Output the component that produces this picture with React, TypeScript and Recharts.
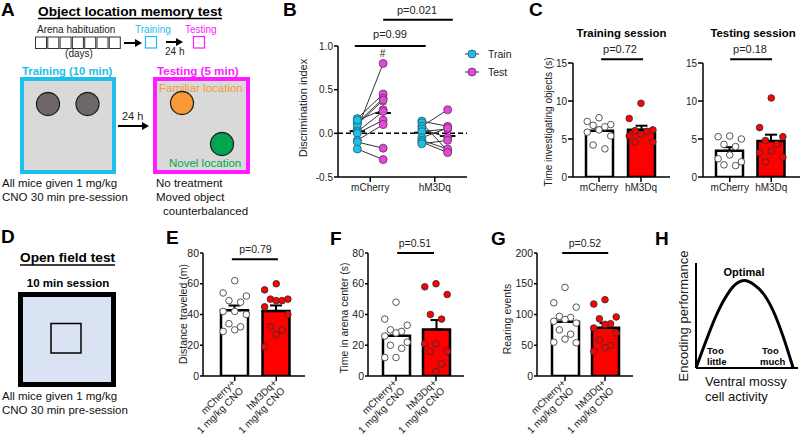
import React from "react";
import {
  ComposedChart,
  LineChart,
  Line,
  Bar,
  Scatter,
  XAxis,
  YAxis,
  ErrorBar,
  Cell,
  ReferenceLine,
} from "recharts";

const FONT = '"Liberation Sans", Arial, Helvetica, sans-serif';
const CYAN = "#1cc0ea";
const MAGENTA = "#e04bd6";
const RED = "#ff0000";

// B: discrimination index, paired train -> test per mouse
const bGroups = ["mCherry", "hM3Dq"];
const bTicks = [-0.5, 0, 0.5, 1];
const trainMCherry = [0.05, 0.17, 0.12, 0.1, 0.15, 0.02, 0.0, -0.08, -0.1, -0.18];
const testMCherry = [0.8, 0.45, 0.4, 0.38, 0.27, 0.25, 0.15, 0.1, -0.17, -0.3];
const trainHM3Dq = [0.14, 0.12, 0.08, 0.05, 0.02, -0.05, -0.08, -0.1, -0.12];
const testHM3Dq = [0.08, -0.2, 0.27, -0.05, 0.05, 0.06, -0.18, -0.22, -0.08];

// C: time investigating objects (s)
const cGroups = ["mCherry", "hM3Dq"];
const cTicks = [0, 5, 10, 15];
const trainingMCherry = [7.8, 7.3, 6.9, 6.8, 6.6, 6.2, 5.9, 5.4, 4.2, 3.7];
const trainingHM3Dq = [9.7, 7.7, 6.2, 6.1, 6.0, 5.6, 5.4, 4.6, 4.6];
const testingMCherry = [5.4, 5.3, 5.0, 4.3, 4.0, 2.9, 2.4, 2.0, 1.6, 1.5];
const testingHM3Dq = [10.4, 6.5, 5.3, 4.8, 4.3, 3.4, 3.2, 2.6, 2.0];

// E-G: open field
const ofGroups = ["mCherry+", "hM3Dq+"];
const ofDose = "1 mg/kg CNO";
const ticks80 = [0, 20, 40, 60, 80];
const ticks200 = [0, 50, 100, 150, 200];
const distMCherry = [62, 54, 52, 49, 48, 42, 42, 40, 34, 32, 30, 29];
const distHM3Dq = [60, 56, 50, 50, 49, 49, 45, 40, 32, 30, 27, 19];
const centerMCherry = [48, 37, 33, 30, 29, 28, 26, 22, 20, 18, 12, 12];
const centerHM3Dq = [60, 58, 53, 40, 37, 21, 21, 16, 16, 8, 3];
const rearMCherry = [144, 119, 112, 97, 95, 92, 89, 86, 75, 68, 60, 55, 54];
const rearHM3Dq = [124, 117, 96, 93, 85, 84, 78, 70, 58, 50, 46, 40];

// H: inverted-U schematic
const activity = [0, 1, 2, 3, 4, 5, 6, 7, 8, 9, 10];
const performance = [0, 0.3, 0.58, 0.8, 0.95, 1.0, 0.95, 0.84, 0.64, 0.35, 0];

const mean = (a: number[]) => a.reduce((s, v) => s + v, 0) / a.length;
const sem = (a: number[]) => {
  const m = mean(a);
  return Math.sqrt(a.reduce((s, v) => s + (v - m) ** 2, 0) / (a.length - 1) / a.length);
};
const spread = [0, -0.28, 0.28, -0.14, 0.14];

const axisLine = { stroke: "#000", strokeWidth: 1.5 };
const tickLine = { stroke: "#000", strokeWidth: 1.5 };
const tickFont = (size: number) => ({ fill: "#222", fontSize: size, fontFamily: FONT });

const dot = (fill: string, stroke: string, r: number, sw: number) => (p: any) => (
  <circle cx={p.cx} cy={p.cy} r={r} fill={fill} stroke={stroke} strokeWidth={sw} />
);

function SlantTick(props: any) {
  const { x, y, payload } = props;
  return (
    <g transform={`translate(${x},${y - 5}) rotate(-45)`}>
      <text textAnchor="end" fontSize={10} fontFamily={FONT} fill="#222">
        <tspan x={-3} y={5}>{payload.value}</tspan>
        <tspan x={-3} y={16}>{ofDose}</tspan>
      </text>
    </g>
  );
}

type BarPanelProps = {
  left: number;
  top: number;
  width: number;
  height: number;
  margin: { top: number; right: number; bottom: number; left: number };
  yWidth: number;
  xHeight: number;
  pad: { left: number; right: number };
  cats: string[];
  groups: number[][];
  domain: [number, number];
  ticks: number[];
  bx: [number, number];
  by: number;
  slanted?: boolean;
};

function BarPanel(p: BarPanelProps) {
  const rows = p.cats.map((name, i) => ({
    name,
    mean: mean(p.groups[i]),
    err: [0, sem(p.groups[i])],
  }));
  const pts = p.groups.map((g, gi) =>
    g.map((v, i) => ({ x: gi + 1 + spread[i % spread.length], y: v }))
  );
  return (
    <div style={{ position: "absolute", left: p.left, top: p.top }}>
      <ComposedChart width={p.width} height={p.height} data={rows} margin={p.margin}>
        <XAxis
          xAxisId="c"
          dataKey="name"
          type="category"
          padding={p.pad}
          height={p.xHeight}
          axisLine={axisLine}
          tickLine={tickLine}
          tickSize={5}
          interval={0}
          tick={p.slanted ? <SlantTick /> : tickFont(10)}
        />
        <XAxis xAxisId="n" type="number" dataKey="x" domain={[0.5, 2.5]} padding={p.pad} hide allowDataOverflow />
        <YAxis
          type="number"
          domain={p.domain}
          ticks={p.ticks}
          interval={0}
          width={p.yWidth}
          axisLine={axisLine}
          tickLine={tickLine}
          tickSize={p.slanted ? 3 : 5}
          tickMargin={1}
          tick={tickFont(p.slanted ? 10.5 : 10)}
          allowDataOverflow
        />
        <Bar xAxisId="c" dataKey="mean" barSize={27} stroke="#000" strokeWidth={2.5} isAnimationActive={false}>
          {rows.map((r, i) => (
            <Cell key={r.name} fill={i === 0 ? "#fff" : RED} />
          ))}
          <ErrorBar dataKey="err" width={6} stroke="#000" strokeWidth={2} direction="y" />
        </Bar>
        <Scatter xAxisId="n" data={pts[0]} dataKey="y" shape={dot("#fff", "#555", 3.3, 1)} isAnimationActive={false} />
        <Scatter xAxisId="n" data={pts[1]} dataKey="y" shape={dot(RED, "#333", 3.3, 0.9)} isAnimationActive={false} />
        <ReferenceLine
          xAxisId="n"
          segment={[{ x: p.bx[0], y: p.by }, { x: p.bx[1], y: p.by }]}
          stroke="#000"
          strokeWidth={2}
          ifOverflow="visible"
        />
      </ComposedChart>
    </div>
  );
}

function PanelB() {
  const pairs = [
    ...trainMCherry.map((t, i) => ({ g: 1, t, s: testMCherry[i] })),
    ...trainHM3Dq.map((t, i) => ({ g: 2, t, s: testHM3Dq[i] })),
  ];
  const trainPts = pairs.map((q) => ({ x: q.g - 0.2, y: q.t }));
  const testPts = pairs.map((q) => ({ x: q.g + 0.2, y: q.s }));
  const stats = [
    { x: 0.8, v: trainMCherry },
    { x: 1.2, v: testMCherry },
    { x: 1.8, v: trainHM3Dq },
    { x: 2.2, v: testHM3Dq },
  ].map((s) => ({ x: s.x, m: mean(s.v), e: sem(s.v) }));
  return (
    <div style={{ position: "absolute", left: 290, top: 0 }}>
      <ComposedChart width={240} height={220} margin={{ top: 46, right: 63, bottom: 13, left: 0 }}>
        <XAxis
          type="number"
          dataKey="x"
          domain={[0.5, 2.5]}
          ticks={[1, 2]}
          tickFormatter={(v: number) => bGroups[v - 1]}
          height={30}
          axisLine={axisLine}
          tickLine={tickLine}
          tickSize={5}
          tick={tickFont(10)}
          allowDataOverflow
        />
        <YAxis
          type="number"
          domain={[-0.5, 1]}
          ticks={bTicks}
          interval={0}
          tickFormatter={(v: number) => v.toFixed(1)}
          width={48}
          axisLine={axisLine}
          tickLine={tickLine}
          tickSize={4}
          tickMargin={1}
          tick={tickFont(10)}
          allowDataOverflow
        />
        <ReferenceLine y={0} stroke="#000" strokeWidth={1.5} strokeDasharray="5 3" />
        {pairs.map((q, i) => (
          <Scatter
            key={i}
            data={[
              { x: q.g - 0.2, y: q.t },
              { x: q.g + 0.2, y: q.s },
            ]}
            dataKey="y"
            line={{ stroke: "#333", strokeWidth: 1 }}
            shape={() => <g />}
            isAnimationActive={false}
          />
        ))}
        <Scatter data={trainPts} dataKey="y" shape={dot(CYAN, "#2a5d6b", 4, 0.8)} isAnimationActive={false} />
        <Scatter data={testPts} dataKey="y" shape={dot(MAGENTA, "#6b2a63", 4, 0.8)} isAnimationActive={false} />
        {stats.map((s, i) => (
          <ReferenceLine
            key={"e" + i}
            segment={[{ x: s.x, y: s.m - s.e }, { x: s.x, y: s.m + s.e }]}
            stroke="#777"
            strokeWidth={1.3}
          />
        ))}
        {stats.map((s, i) => (
          <ReferenceLine
            key={"ct" + i}
            segment={[{ x: s.x - 0.05, y: s.m + s.e }, { x: s.x + 0.05, y: s.m + s.e }]}
            stroke="#777"
            strokeWidth={1.3}
          />
        ))}
        {stats.map((s, i) => (
          <ReferenceLine
            key={"cb" + i}
            segment={[{ x: s.x - 0.05, y: s.m - s.e }, { x: s.x + 0.05, y: s.m - s.e }]}
            stroke="#777"
            strokeWidth={1.3}
          />
        ))}
        {stats.map((s, i) => (
          <ReferenceLine
            key={"m" + i}
            segment={[{ x: s.x - 0.12, y: s.m }, { x: s.x + 0.12, y: s.m }]}
            stroke="#000"
            strokeWidth={2}
          />
        ))}
        <ReferenceLine
          segment={[{ x: 0.76, y: 1.0 }, { x: 1.86, y: 1.0 }]}
          stroke="#000"
          strokeWidth={2}
          ifOverflow="visible"
        />
        <ReferenceLine
          segment={[{ x: 1.2, y: 1.3 }, { x: 2.28, y: 1.3 }]}
          stroke="#000"
          strokeWidth={2}
          ifOverflow="visible"
        />
      </ComposedChart>
    </div>
  );
}

function PanelH() {
  const rows = activity.map((x, i) => ({ x, y: performance[i] }));
  return (
    <div style={{ position: "absolute", left: 690, top: 255 }}>
      <LineChart width={110} height={115} data={rows} margin={{ top: 8, right: 2, bottom: 1, left: 5 }}>
        <XAxis
          type="number"
          dataKey="x"
          domain={[0, 10.5]}
          height={1}
          tick={false}
          tickLine={false}
          axisLine={{ stroke: "#000", strokeWidth: 2 }}
        />
        <YAxis
          type="number"
          domain={[0, 1.2]}
          width={1}
          tick={false}
          tickLine={false}
          axisLine={{ stroke: "#000", strokeWidth: 2 }}
        />
        <Line type="monotone" dataKey="y" stroke="#000" strokeWidth={3} dot={false} isAnimationActive={false} />
      </LineChart>
    </div>
  );
}

function Arrow({ x1, x2, y, w = 2 }: { x1: number; x2: number; y: number; w?: number }) {
  return (
    <g>
      <line x1={x1} y1={y} x2={x2 - 5} y2={y} stroke="#000" strokeWidth={w} />
      <path d={`M${x2 - 7},${y - 4} L${x2},${y} L${x2 - 7},${y + 4} Z`} fill="#000" />
    </g>
  );
}

function Overlay() {
  const letter = { fontSize: 19, fontWeight: 700, fill: "#000" } as const;
  const vlabel = (x: number, y: number, txt: string, size: number) => (
    <text
      x={x}
      y={y}
      fontSize={size}
      textAnchor="middle"
      fill="#222"
      transform={`rotate(-90 ${x} ${y})`}
    >
      {txt}
    </text>
  );
  return (
    <svg width={800} height={437} style={{ position: "absolute", left: 0, top: 0 }} fontFamily={FONT}>
      {/* Panel A */}
      <text x={1} y={16} {...letter}>A</text>
      <text x={38} y={16} fontSize={13.7} fontWeight={700}>Object location memory test</text>
      <line x1={38} y1={18.5} x2={222} y2={18.5} stroke="#000" strokeWidth={1.3} />
      <text x={37} y={33} fontSize={10} fill="#222">Arena habituation</text>
      {[0, 1, 2, 3, 4, 5, 6].map((i) => (
        <rect key={i} x={35.5 + i * 12.3} y={37} width={11} height={11.5} fill="#fff" stroke="#333" strokeWidth={1} />
      ))}
      <text x={79} y={57} fontSize={10} textAnchor="middle" fill="#222">(days)</text>
      <Arrow x1={124} x2={142} y={43} />
      <text x={135} y={33} fontSize={10} fill={CYAN}>Training</text>
      <rect x={145.5} y={36.5} width={11} height={11.5} fill="#fff" stroke={CYAN} strokeWidth={1.2} />
      <Arrow x1={166} x2={183} y={42} />
      <text x={165} y={55} fontSize={10} fill="#222">24 h</text>
      <text x={185} y={33} fontSize={10} fill="#ff1aff">Testing</text>
      <rect x={193.5} y={36.5} width={11} height={11.5} fill="#fff" stroke="#ff1aff" strokeWidth={1.2} />

      <text x={22} y={75} fontSize={11.3} fontWeight={700} fill={CYAN}>Training (10 min)</text>
      <rect x={22} y={79} width={92} height={93} fill="#d9d9d9" stroke={CYAN} strokeWidth={4} />
      <circle cx={48} cy={104} r={11.5} fill="#6e6767" stroke="#222" strokeWidth={1.3} />
      <circle cx={87.5} cy={104} r={11.5} fill="#6e6767" stroke="#222" strokeWidth={1.3} />
      <text x={122} y={120} fontSize={11} fill="#222">24 h</text>
      <Arrow x1={118} x2={149} y={126} />
      <text x={157} y={75} fontSize={11.6} fontWeight={700} fill="#ff1aff">Testing (5 min)</text>
      <rect x={155} y={79} width={93} height={93} fill="#d9d9d9" stroke="#ff1aff" strokeWidth={4} />
      <text x={159} y={92} fontSize={11.5} fill="#f79a36">Familiar location</text>
      <circle cx={182} cy={103} r={11.5} fill="#f79a36" stroke="#222" strokeWidth={1.3} />
      <circle cx={222} cy={144} r={11.5} fill="#00a651" stroke="#222" strokeWidth={1.3} />
      <text x={169} y={167} fontSize={11.5} fill="#00a651">Novel location</text>
      <text x={2} y={187} fontSize={11.5} fill="#111">All mice given 1 mg/kg</text>
      <text x={2} y={201} fontSize={11.5} fill="#111">CNO 30 min pre-session</text>
      <text x={156} y={187} fontSize={11.5} fill="#111">No treatment</text>
      <text x={156} y={201} fontSize={11.5} fill="#111">Moved object</text>
      <text x={163} y={215} fontSize={11.5} fill="#111">counterbalanced</text>

      {/* Panel D */}
      <text x={1} y={243} {...letter}>D</text>
      <text x={20} y={262} fontSize={13.7} fontWeight={700}>Open field test</text>
      <line x1={20} y1={265} x2={115} y2={265} stroke="#000" strokeWidth={1.3} />
      <text x={68} y={287} fontSize={11.5} fontWeight={700} textAnchor="middle">10 min session</text>
      <rect x={20.5} y={294.5} width={93} height={90} fill="#dae3f3" stroke="#000" strokeWidth={5} />
      <rect x={51} y={323.5} width={30} height={29.5} fill="#dae3f3" stroke="#000" strokeWidth={1.5} />
      <text x={2} y={400} fontSize={11.5} fill="#111">All mice given 1 mg/kg</text>
      <text x={2} y={414} fontSize={11.5} fill="#111">CNO 30 min pre-session</text>

      {/* Panel B */}
      <text x={283} y={16} {...letter}>B</text>
      {vlabel(307, 108, "Discrimination index", 11)}
      <text x={417} y={14} fontSize={11} textAnchor="middle" fill="#222">p=0.021</text>
      <text x={390} y={38} fontSize={11} textAnchor="middle" fill="#222">p=0.99</text>
      <text x={382.5} y={57} fontSize={10} textAnchor="middle" fill="#222">#</text>
      <line x1={465} y1={54} x2={479} y2={54} stroke="#333" strokeWidth={1} />
      <circle cx={472} cy={54} r={4} fill={CYAN} stroke="#2a5d6b" strokeWidth={0.8} />
      <text x={488} y={58} fontSize={10.5} fill="#222">Train</text>
      <line x1={465} y1={72} x2={479} y2={72} stroke="#333" strokeWidth={1} />
      <circle cx={472} cy={72} r={4} fill={MAGENTA} stroke="#6b2a63" strokeWidth={0.8} />
      <text x={488} y={76} fontSize={10.5} fill="#222">Test</text>

      {/* Panel C */}
      <text x={529} y={16} {...letter}>C</text>
      <text x={621.5} y={37} fontSize={11.4} fontWeight={700} textAnchor="middle">Training session</text>
      <text x={753} y={37} fontSize={11.4} fontWeight={700} textAnchor="middle">Testing session</text>
      <text x={620} y={53} fontSize={11} textAnchor="middle" fill="#222">p=0.72</text>
      <text x={750} y={53} fontSize={11} textAnchor="middle" fill="#222">p=0.18</text>
      {vlabel(552, 122, "Time investigating objects (s)", 10)}

      {/* Panels E-G */}
      <text x={166} y={244} {...letter}>E</text>
      <text x={330} y={245} {...letter}>F</text>
      <text x={491} y={245} {...letter}>G</text>
      <text x={655} y={245} {...letter}>H</text>
      <text x={255.5} y={253} fontSize={10.5} textAnchor="middle" fill="#222">p=0.79</text>
      <text x={415} y={247} fontSize={10.5} textAnchor="middle" fill="#222">p=0.51</text>
      <text x={585} y={247} fontSize={10.5} textAnchor="middle" fill="#222">p=0.52</text>
      {vlabel(187, 314, "Distance traveled (m)", 10.5)}
      {vlabel(348, 318, "Time in arena center (s)", 10.5)}
      {vlabel(511, 319, "Rearing events", 10.5)}

      {/* Panel H */}
      <text x={744} y={276} fontSize={11} fontWeight={700} textAnchor="middle">Optimal</text>
      <text x={707} y={354} fontSize={9.5} fontWeight={700}>Too</text>
      <text x={707} y={365} fontSize={9.5} fontWeight={700}>little</text>
      <text x={762} y={354} fontSize={9.5} fontWeight={700}>Too</text>
      <text x={760} y={365} fontSize={9.5} fontWeight={700}>much</text>
      <text x={705} y={386} fontSize={13} fill="#111">Ventral mossy</text>
      <text x={705} y={401} fontSize={13} fill="#111">cell activity</text>
      {vlabel(688, 316, "Encoding performance", 13)}
    </svg>
  );
}

export default function App() {
  return (
    <div
      style={{
        position: "absolute",
        left: 0,
        top: 0,
        width: 800,
        height: 437,
        background: "#fff",
        fontFamily: FONT,
        overflow: "hidden",
      }}
    >
      <Overlay />
      <PanelB />
      <BarPanel
        left={520}
        top={0}
        width={155}
        height={220}
        margin={{ top: 63, right: 5, bottom: 15, left: 0 }}
        yWidth={53}
        xHeight={28}
        pad={{ left: 5, right: 8 }}
        cats={cGroups}
        groups={[trainingMCherry, trainingHM3Dq]}
        domain={[0, 15]}
        ticks={cTicks}
        bx={[1.05, 2.05]}
        by={15.5}
      />
      <BarPanel
        left={660}
        top={0}
        width={140}
        height={220}
        margin={{ top: 63, right: 0, bottom: 15, left: 0 }}
        yWidth={43}
        xHeight={28}
        pad={{ left: 6, right: 8 }}
        cats={cGroups}
        groups={[testingMCherry, testingHM3Dq]}
        domain={[0, 15]}
        ticks={cTicks}
        bx={[1.01, 2.02]}
        by={15.5}
      />
      <BarPanel
        left={165}
        top={220}
        width={145}
        height={217}
        margin={{ top: 33, right: 5, bottom: 6, left: 0 }}
        yWidth={38}
        xHeight={55}
        pad={{ left: 11, right: 8 }}
        cats={ofGroups}
        groups={[distMCherry, distHM3Dq]}
        domain={[0, 80]}
        ticks={ticks80}
        bx={[0.93, 2.04]}
        by={76}
        slanted
      />
      <BarPanel
        left={325}
        top={220}
        width={145}
        height={217}
        margin={{ top: 33, right: 6, bottom: 6, left: 0 }}
        yWidth={43}
        xHeight={55}
        pad={{ left: 8, right: 8 }}
        cats={ofGroups}
        groups={[centerMCherry, centerHM3Dq]}
        domain={[0, 80]}
        ticks={ticks80}
        bx={[1.03, 1.95]}
        by={80}
        slanted
      />
      <BarPanel
        left={490}
        top={220}
        width={150}
        height={217}
        margin={{ top: 33, right: 7, bottom: 6, left: 0 }}
        yWidth={47}
        xHeight={55}
        pad={{ left: 8, right: 8 }}
        cats={ofGroups}
        groups={[rearMCherry, rearHM3Dq]}
        domain={[0, 200]}
        ticks={ticks200}
        bx={[0.93, 2.08]}
        by={200}
        slanted
      />
      <PanelH />
    </div>
  );
}
